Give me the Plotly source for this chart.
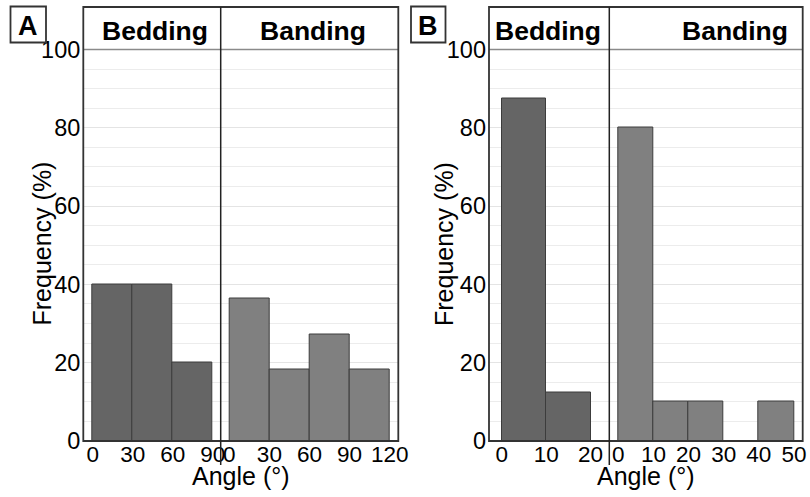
import plotly.graph_objects as go

# ---------------- data ----------------
# Panel A
a_bed_bins = [0, 30, 60]
a_bed_freq = [40, 40, 20]
a_bed_width = 30
a_bed_ticks = [0, 30, 60, 90]

a_band_bins = [0, 30, 60, 90]
a_band_freq = [36.4, 18.2, 27.3, 18.2]
a_band_width = 30
a_band_ticks = [0, 30, 60, 90, 120]

# Panel B
b_bed_bins = [0, 10]
b_bed_freq = [87.5, 12.5]
b_bed_width = 10
b_bed_ticks = [0, 10, 20]

b_band_bins = [0, 10, 20, 30, 40]
b_band_freq = [80, 10, 10, 0, 10]
b_band_width = 10
b_band_ticks = [0, 10, 20, 30, 40, 50]

y_ticks = [0, 20, 40, 60, 80, 100]

# ---------------- layout helpers ----------------
W, H = 810, 497
def px(x):
    return x / W
def py(y):
    return 1 - y / H

BED_COLOR = "#656565"
BAND_COLOR = "#808080"
EDGE = "#3c3c3c"
FONT = "Liberation Sans, Arial, sans-serif"

y_top, y_bot = 49.5, 441
panels = {
    # name: (x0, x1, range, ticks, bins, freq, width, color)
    "x": (83.3, 220.7, [-7.0, 96.0], a_bed_ticks, a_bed_bins, a_bed_freq, a_bed_width, BED_COLOR),
    "x2": (220.7, 398.3, [-6.4, 126.4], a_band_ticks, a_band_bins, a_band_freq, a_band_width, BAND_COLOR),
    "x3": (489.0, 609.3, [-2.85, 24.2], b_bed_ticks, b_bed_bins, b_bed_freq, b_bed_width, BED_COLOR),
    "x4": (609.3, 802.7, [-2.56, 52.5], b_band_ticks, b_band_bins, b_band_freq, b_band_width, BAND_COLOR),
}

fig = go.Figure()
layout = dict(
    width=W, height=H,
    margin=dict(l=0, r=0, t=0, b=0, pad=0, autoexpand=False),
    paper_bgcolor="white", plot_bgcolor="white",
    showlegend=False, bargap=0,
    font=dict(family=FONT, color="black"),
)

for i, (name, (x0, x1, rng, ticks, bins, freq, width, color)) in enumerate(panels.items(), start=1):
    ya = "y" if i == 1 else f"y{i}"
    fig.add_trace(go.Bar(
        x=bins, y=freq, width=width, offset=0,
        marker=dict(color=color, line=dict(color=EDGE, width=1)),
        xaxis=name, yaxis=ya, hoverinfo="skip",
    ))
    xkey = "xaxis" if i == 1 else f"xaxis{i}"
    ykey = "yaxis" if i == 1 else f"yaxis{i}"
    layout[xkey] = dict(
        domain=[px(x0), px(x1)], range=rng, anchor=ya, automargin=False,
        tickmode="array", tickvals=ticks, ticktext=[str(t) for t in ticks],
        ticklabelstandoff=-3,
        showgrid=False, zeroline=False, showline=False, ticks="",
        tickfont=dict(size=22.5, family=FONT, color="black"),
        fixedrange=True,
    )
    layout[ykey] = dict(
        domain=[py(y_bot), py(y_top)], range=[0, 100], anchor=name, automargin=False,
        tickmode="array", tickvals=y_ticks,
        showticklabels=(i in (1, 3)), ticklabelstandoff=2,
        showgrid=True, gridcolor="#e4e4e4", gridwidth=1,
        minor=dict(dtick=5, tick0=0, showgrid=True, gridcolor="#ececec", gridwidth=1),
        zeroline=False, showline=False, ticks="",
        tickfont=dict(size=23.5, family=FONT, color="black"),
        fixedrange=True,
    )

fig.update_layout(**layout)

shapes = []
annotations = []

def add_panel_frame(x0, xmid, x1, label, lx0, lx1, bed_x, band_x):
    # strip background
    shapes.append(dict(type="rect", xref="paper", yref="paper",
                       x0=px(x0), x1=px(x1), y0=py(y_top), y1=py(7),
                       line=dict(width=0), fillcolor="white", layer="below"))
    # strip bottom line (gray)
    shapes.append(dict(type="line", xref="paper", yref="paper",
                       x0=px(x0), x1=px(x1), y0=py(y_top), y1=py(y_top),
                       line=dict(color="#8a8a8a", width=1.5)))
    # outer box
    shapes.append(dict(type="rect", xref="paper", yref="paper",
                       x0=px(x0), x1=px(x1), y0=py(y_bot), y1=py(7),
                       line=dict(color="#333333", width=1.8)))
    # divider
    shapes.append(dict(type="line", xref="paper", yref="paper",
                       x0=px(xmid), x1=px(xmid), y0=py(465), y1=py(7),
                       line=dict(color="#222222", width=1.5)))
    # panel label box
    shapes.append(dict(type="rect", xref="paper", yref="paper",
                       x0=px(lx0), x1=px(lx1), y0=py(42.5), y1=py(6.5),
                       line=dict(color="#333333", width=1.8)))
    annotations.append(dict(text=f"<b>{label}</b>", xref="paper", yref="paper",
                            x=px((lx0 + lx1) / 2), y=py(26), showarrow=False,
                            xanchor="center", yanchor="middle",
                            font=dict(size=27, family=FONT, color="black")))
    for txt, cx in (("Bedding", bed_x), ("Banding", band_x)):
        annotations.append(dict(text=f"<b>{txt}</b>", xref="paper", yref="paper",
                                x=px(cx), y=py(31), showarrow=False,
                                xanchor="center", yanchor="middle",
                                font=dict(size=26.5, family=FONT, color="black")))
    # axis titles
    annotations.append(dict(text="Angle (°)", xref="paper", yref="paper",
                            x=px((x0 + x1) / 2), y=py(476), showarrow=False,
                            xanchor="center", yanchor="middle",
                            font=dict(size=25, family=FONT, color="black")))

add_panel_frame(83.3, 220.7, 398.3, "A", 10.5, 46, 155, 313)
add_panel_frame(489.0, 609.3, 802.7, "B", 411, 445.5, 548, 735)

for cx in (41.5, 444):
    annotations.append(dict(text="Frequency (%)", xref="paper", yref="paper",
                            x=px(cx), y=py(244), showarrow=False, textangle=-90,
                            xanchor="center", yanchor="middle",
                            font=dict(size=25, family=FONT, color="black")))

fig.update_layout(shapes=shapes, annotations=annotations)
fig.write_html("out.html", config={"displayModeBar": False},
               post_script="document.body.style.margin='0';")
